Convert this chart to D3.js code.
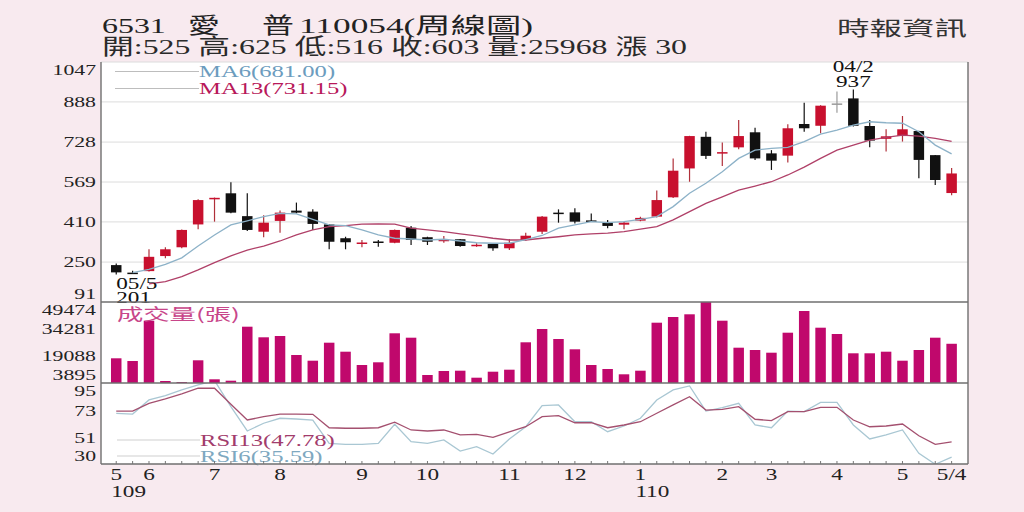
<!DOCTYPE html>
<html>
<head>
<meta charset="utf-8">
<script src="https://cdn.jsdelivr.net/npm/d3@7/dist/d3.min.js"></script>
<style>
  body { margin: 0; background: #f8eaef; }
  svg { display: block; }
</style>
</head>
<body>
<svg class="chart"></svg>
<script>
// weekly candles, 52 weeks
var opens  = [238,208,214,274,309,400,500,524,433,371,414,455,451,400,345,326,332,327,387,349,337,341,317,322,305,338,
              371,447,448,416,407,399,415,431,508,623,749,686,707,767,683,674,800,793,882,902,792,741,752,772,676,525];
var highs  = [244,215,301,309,380,500,507,568,524,437,455,487,460,401,351,338,338,380,394,351,354,342,325,325,342,367,
              434,460,464,444,418,411,431,535,663,753,769,726,816,785,696,799,885,875,929,937,816,779,832,773,677,625];
var lows   = [201,203,212,265,305,381,411,445,374,349,367,444,378,301,301,309,311,325,318,318,327,311,311,295,298,334,
              362,407,404,411,385,381,413,428,505,570,661,633,699,657,617,647,769,763,845,790,707,690,730,584,557,516];
var closes = [209,207,271,301,378,497,506,447,378,407,447,447,402,331,329,328,330,378,338,331,339,314,319,305,327,355,
              431,442,411,414,394,407,426,497,614,752,673,688,752,663,654,783,783,873,882,793,734,751,779,657,577,603];
var volumes = [17794,16274,38951,5020,3895,16668,5977,5189,35575,29610,30342,19651,16443,26572,21508,14024,15543,31861,
               29385,8397,10647,10816,6877,10254,11379,26797,34281,28654,22858,14024,11773,8790,10816,37826,41033,42552,
               49474,38951,23758,22464,20946,32199,44409,35012,31467,20607,20607,21508,16443,22464,29385,25968];
var ma6  = [null,208,221,241,267,314,358,398,414,431,444,442,420,398,395,378,358,345,342,338,341,334,327,325,325,339,
            356,385,398,411,407,411,420,431,471,524,564,610,663,696,703,707,730,760,776,796,809,805,803,769,716,681];
var ma13 = [null,null,163,172,192,219,248,275,298,314,334,358,378,391,395,401,402,401,385,378,371,362,354,345,338,338,
            345,351,358,362,365,371,381,391,418,451,484,510,537,553,570,597,628,663,696,716,736,747,756,752,743,731.15];
var rsi13 = [72.5,72.5,78.7,82.2,86.2,90.8,90.8,77.9,65.3,68,70.1,70.1,69.9,59.1,58.7,58.7,59.1,63.5,57.3,56.5,57.3,53.3,
             53.8,51.4,55.7,59.9,68,68.8,63.1,63.1,59.1,61.3,63.9,70.7,77.4,84,73.3,73.9,76,65.9,64.8,72,72,75.5,75.5,
             65.3,59.9,60.5,62.1,52.7,45.8,47.78];
var rsi6 = [70.7,70.1,81.4,84.8,89.4,93.4,97,76,56.5,62.7,66.7,66.1,65.3,46.6,45.8,45.8,46.6,61.9,47.9,46.6,49.3,40.4,
            43.9,38,50.1,59.9,76.8,77.4,63.9,63.9,55.9,60.5,66.7,81.4,89.4,92.6,72.5,75.2,78.7,61.3,59.1,72.5,72,79.5,
            79.5,61.3,50.1,53.3,57.3,38.6,29.8,35.59];

var priceTicks = [91, 250, 410, 569, 728, 888, 1047];
var volTicks = [3895, 19088, 34281, 49474];
var rsiTicks = [30, 51, 73, 95];
var monthLabels = ["5","6","7","8","9","10","11","12","1","2","3","4","5","5/4"];
var monthIdx    = [0, 2, 6, 10, 15, 19, 24, 28, 32, 37, 40, 44, 48, 51];
var yearLabels = ["109", "110"];
var yearIdx    = [0, 32];

var titleParts = ["6531", "愛", "普", "110054(周線圖)"];
var subTitle = "開:525 高:625 低:516 收:603 量:25968 漲 30";
var source = "時報資訊";

(function () {
    'use strict';
    var W = 1024, H = 512;
    var left = 101, right = 968;
    var pTop = 62, pBot = 302, vBot = 383, rBot = 464;
    var SX = 1.45;   // the picture is stretched sideways
    var serif = "'Liberation Serif','DejaVu Serif','Noto Sans CJK TC',serif";
    var cjk = "'Liberation Serif','Noto Sans CJK TC',sans-serif";

    var svg = d3.select(".chart").attr("width", W).attr("height", H);
    svg.append("rect").attr("width", W).attr("height", H).attr("fill", "#f8eaef");
    svg.append("rect").attr("x", left).attr("y", pTop)
        .attr("width", right - left).attr("height", rBot - pTop).attr("fill", "#fff");

    var n = closes.length;
    var x = d3.scaleLinear().domain([-0.93, 52]).range([left, right]);
    var yP = d3.scaleLinear().domain([91, 1047]).range([pBot, pTop]);
    var yV = d3.scaleLinear().domain([3895, 49474]).range([vBot, pBot]);
    var yR = d3.scaleLinear().domain([30, 95]).range([rBot, vBot]);

    var data = d3.range(n).map(function (i) {
        return {i: i, o: opens[i], h: highs[i], l: lows[i], c: closes[i], v: volumes[i]};
    });

    var defs = svg.append("defs");
    defs.append("clipPath").attr("id", "clipP").append("rect")
        .attr("x", left).attr("y", pTop).attr("width", right - left).attr("height", pBot - pTop);
    defs.append("clipPath").attr("id", "clipR").append("rect")
        .attr("x", left).attr("y", vBot).attr("width", right - left).attr("height", rBot - vBot);

    function stext(parent, tx, ty, str, size, anchor, fill, family) {
        return parent.append("text")
            .attr("transform", "translate(" + tx + "," + ty + ") scale(" + SX + ",1)")
            .attr("text-anchor", anchor || "start")
            .attr("font-size", size)
            .attr("font-family", family || serif)
            .attr("fill", fill || "#222")
            .text(str);
    }

    // header
    var hdr = svg.append("g");
    stext(hdr, 102, 33, titleParts[0], 22, "start", "#222", cjk);
    stext(hdr, 188, 33, titleParts[1], 22, "start", "#222", cjk);
    stext(hdr, 262, 33, titleParts[2], 22, "start", "#222", cjk);
    stext(hdr, 299, 33, titleParts[3], 22, "start", "#222", cjk)
        .attr("textLength", 234 / SX).attr("lengthAdjust", "spacingAndGlyphs");
    stext(hdr, 102, 54, subTitle, 22, "start", "#2a2a2a", cjk)
        .attr("textLength", 585 / SX).attr("lengthAdjust", "spacingAndGlyphs");
    stext(hdr, 837, 36, source, 20, "start", "#333", "'Noto Sans CJK TC',sans-serif")
        .attr("textLength", 130 / SX).attr("lengthAdjust", "spacingAndGlyphs");

    // grid lines in price panel
    svg.append("g").selectAll("line").data(priceTicks.slice(1)).join("line")
        .attr("x1", left).attr("x2", right)
        .attr("y1", function (d) { return yP(d); }).attr("y2", function (d) { return yP(d); })
        .attr("stroke", "#dcdcdc").attr("stroke-width", 1);

    // y labels, edge ones pushed inside the panel
    function yLabels(ticks, scale, top, bot) {
        var g = svg.append("g");
        ticks.forEach(function (t) {
            var yy = Math.max(top + 8, Math.min(bot - 8, scale(t)));
            stext(g, 96, yy, String(t), 15, "end", "#222").attr("dominant-baseline", "central");
        });
    }
    yLabels(priceTicks, yP, pTop, pBot);
    yLabels(volTicks, yV, pBot, vBot);
    yLabels(rsiTicks, yR, vBot, rBot);

    // candles
    var bw = 10.5;
    function col(d) { return d.c > d.o ? "#c8102e" : (d.c < d.o ? "#111" : "#9a9a9a"); }
    function wcol(d) { return d.c > d.o ? "#b0303a" : (d.c < d.o ? "#111" : "#9a9a9a"); }
    var cg = svg.append("g").attr("clip-path", "url(#clipP)");
    cg.selectAll("line.wick").data(data).join("line").attr("class", "wick")
        .attr("x1", function (d) { return x(d.i); }).attr("x2", function (d) { return x(d.i); })
        .attr("y1", function (d) { return yP(d.h); }).attr("y2", function (d) { return yP(d.l); })
        .attr("stroke", wcol).attr("stroke-width", 1.2);
    cg.selectAll("rect.body").data(data).join("rect").attr("class", "body")
        .attr("x", function (d) { return x(d.i) - bw / 2; })
        .attr("y", function (d) { return yP(Math.max(d.o, d.c)); })
        .attr("width", bw)
        .attr("height", function (d) { return Math.max(1.5, Math.abs(yP(d.o) - yP(d.c))); })
        .attr("fill", col);

    // moving averages
    function mline(arr, scale) {
        return d3.line()
            .defined(function (d) { return d != null; })
            .x(function (d, i) { return x(i); })
            .y(function (d) { return scale(d); })(arr);
    }
    cg.append("path").attr("d", mline(ma13, yP)).attr("fill", "none")
        .attr("stroke", "#b04068").attr("stroke-width", 1.3);
    cg.append("path").attr("d", mline(ma6, yP)).attr("fill", "none")
        .attr("stroke", "#8db2c8").attr("stroke-width", 1.3);

    // MA legend
    var lg = svg.append("g");
    [[71.5, "MA6(681.00)", "#6c9cbe"], [88.5, "MA13(731.15)", "#b8185a"]].forEach(function (r) {
        lg.append("line").attr("x1", 115).attr("x2", 199).attr("y1", r[0]).attr("y2", r[0])
            .attr("stroke", "#bdbdbd").attr("stroke-width", 1);
        stext(lg, 199, r[0], r[1], 17, "start", r[2]).attr("dominant-baseline", "central");
    });

    // high / low notes
    var hi = d3.maxIndex(highs), lo = d3.minIndex(lows);
    stext(svg, x(hi), 66, "04/2", 16, "middle", "#111").attr("dominant-baseline", "central");
    stext(svg, x(hi), 81, String(highs[hi]), 16, "middle", "#111").attr("dominant-baseline", "central");
    stext(svg, x(lo), 283, "05/5", 16, "start", "#111").attr("dominant-baseline", "central");
    stext(svg, x(lo), 297.5, String(lows[lo]), 16, "start", "#111").attr("dominant-baseline", "central");

    // volume bars
    svg.append("g").selectAll("rect").data(data).join("rect")
        .attr("x", function (d) { return x(d.i) - bw / 2; })
        .attr("y", function (d) { return Math.min(yV(d.v), vBot - 1); })
        .attr("width", bw)
        .attr("height", function (d) { return Math.max(1, vBot - yV(d.v)); })
        .attr("fill", "#c0086c");
    stext(svg, 117, 313, "成交量(張)", 16, "start", "#c8468a", "'Noto Sans CJK TC',sans-serif")
        .attr("dominant-baseline", "central")
        .attr("textLength", 123 / SX).attr("lengthAdjust", "spacingAndGlyphs");

    // RSI
    var rg = svg.append("g").attr("clip-path", "url(#clipR)");
    rg.append("path").attr("d", mline(rsi6, yR)).attr("fill", "none")
        .attr("stroke", "#a9c7d3").attr("stroke-width", 1.3);
    rg.append("path").attr("d", mline(rsi13, yR)).attr("fill", "none")
        .attr("stroke", "#a4506f").attr("stroke-width", 1.3);
    var rl = svg.append("g");
    [[440, "RSI13(47.78)", "#a23c6c"], [456, "RSI6(35.59)", "#7ea8c0"]].forEach(function (r) {
        rl.append("line").attr("x1", 117).attr("x2", 200).attr("y1", r[0]).attr("y2", r[0])
            .attr("stroke", "#cfcfcf").attr("stroke-width", 1);
        stext(rl, 200, r[0], r[1], 17, "start", r[2]).attr("dominant-baseline", "central");
    });

    // frame
    var fr = svg.append("g").attr("stroke", "#6f6f6f").attr("stroke-width", 1.4);
    fr.append("line").attr("x1", left).attr("x2", left).attr("y1", pTop).attr("y2", rBot);
    fr.append("line").attr("x1", right).attr("x2", right).attr("y1", pTop).attr("y2", rBot);
    [pBot, vBot, rBot].forEach(function (yy) {
        fr.append("line").attr("x1", left).attr("x2", right).attr("y1", yy).attr("y2", yy);
    });

    // x ticks and labels
    svg.append("g").selectAll("line").data(d3.range(n)).join("line")
        .attr("x1", function (d) { return x(d); }).attr("x2", function (d) { return x(d); })
        .attr("y1", rBot - 3).attr("y2", rBot)
        .attr("stroke", "#777").attr("stroke-width", 1);
    var xl = svg.append("g");
    monthLabels.forEach(function (m, k) {
        stext(xl, x(monthIdx[k]), 474, m, 16, "middle", "#222").attr("dominant-baseline", "central");
    });
    yearLabels.forEach(function (yl, k) {
        stext(xl, x(yearIdx[k]) - 5, 491, yl, 16, "start", "#222").attr("dominant-baseline", "central");
    });
})();
</script>
</body>
</html>
